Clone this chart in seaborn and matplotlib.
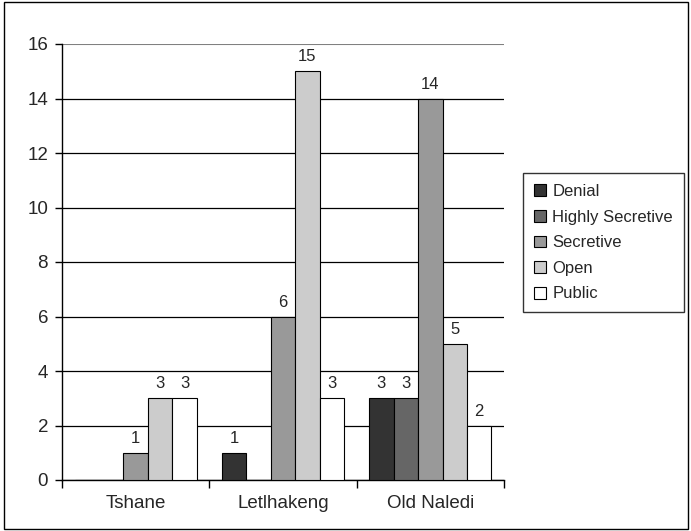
import pandas as pd
import matplotlib.pyplot as plt
import seaborn as sns
from matplotlib.patches import Rectangle

# --- data ---
villages = ["Tshane", "Letlhakeng", "Old Naledi"]
categories = ["Denial", "Highly Secretive", "Secretive", "Open", "Public"]
denial = [0, 1, 3]
highly_secretive = [0, 0, 3]
secretive = [1, 6, 14]
open_ = [3, 15, 5]
public = [3, 3, 2]
shades = ["#333333", "#666666", "#999999", "#cccccc", "#ffffff"]

series = [denial, highly_secretive, secretive, open_, public]
rows = []
for cat, vals in zip(categories, series):
    for v, val in zip(villages, vals):
        rows.append({"Village": v, "Category": cat, "Count": val})
df = pd.DataFrame(rows)

sns.set_style("white")
plt.rcParams['font.family'] = ['Liberation Sans', 'DejaVu Sans']

W, H = 691, 531
fig = plt.figure(figsize=(W / 100, H / 100), dpi=100)
ax = fig.add_axes([62 / W, 1 - 480 / H, (504 - 62) / W, (480 - 44) / H])

sns.barplot(data=df, x="Village", y="Count", hue="Category", order=villages,
            hue_order=categories, palette=shades, width=0.83, gap=0,
            edgecolor="black", linewidth=0.8, ax=ax, zorder=3)

# value labels, zeros left out
for cont in ax.containers:
    labels = [f"{b.get_height():.0f}" if b.get_height() > 0 else "" for b in cont]
    ax.bar_label(cont, labels=labels, padding=5, fontsize=12)

ax.set_ylim(0, 16)
ax.set_xlim(-0.5, 2.5)
ax.set_yticks(range(0, 17, 2))
ax.yaxis.grid(True, color="black", linewidth=0.9, zorder=0)
ax.get_ygridlines()[-1].set_color("#808080")
ax.get_ygridlines()[-1].set_linewidth(1.5)
ax.set_axisbelow(True)
ax.set_xlabel("")
ax.set_ylabel("")

for s in ["top", "right"]:
    ax.spines[s].set_visible(False)
for s in ["left", "bottom"]:
    ax.spines[s].set_color("black")
    ax.spines[s].set_linewidth(1)

ax.tick_params(axis="y", direction="out", length=5, width=1, color="black",
               labelsize=13.5, left=True, pad=5)
ax.tick_params(axis="x", which="major", length=0, labelsize=13.5, pad=11)
ax.set_xticks([-0.5, 0.5, 1.5, 2.5], minor=True)
ax.tick_params(axis="x", which="minor", direction="out", length=6, width=1,
               color="black", bottom=True)

ax.legend(loc="upper left", bbox_to_anchor=(523 / W, 1 - 173 / H),
          bbox_transform=fig.transFigure, frameon=True, fontsize=12,
          fancybox=False, edgecolor="black", handlelength=0.7,
          handleheight=0.7, handletextpad=0.4, borderpad=0.65,
          labelspacing=0.64, borderaxespad=0)

# outer chart border
fig.patches.append(Rectangle((4 / W, 2 / H), 684 / W, 527 / H, transform=fig.transFigure,
                             fill=False, edgecolor="black", linewidth=1))

fig.savefig("out.png", dpi=100)
